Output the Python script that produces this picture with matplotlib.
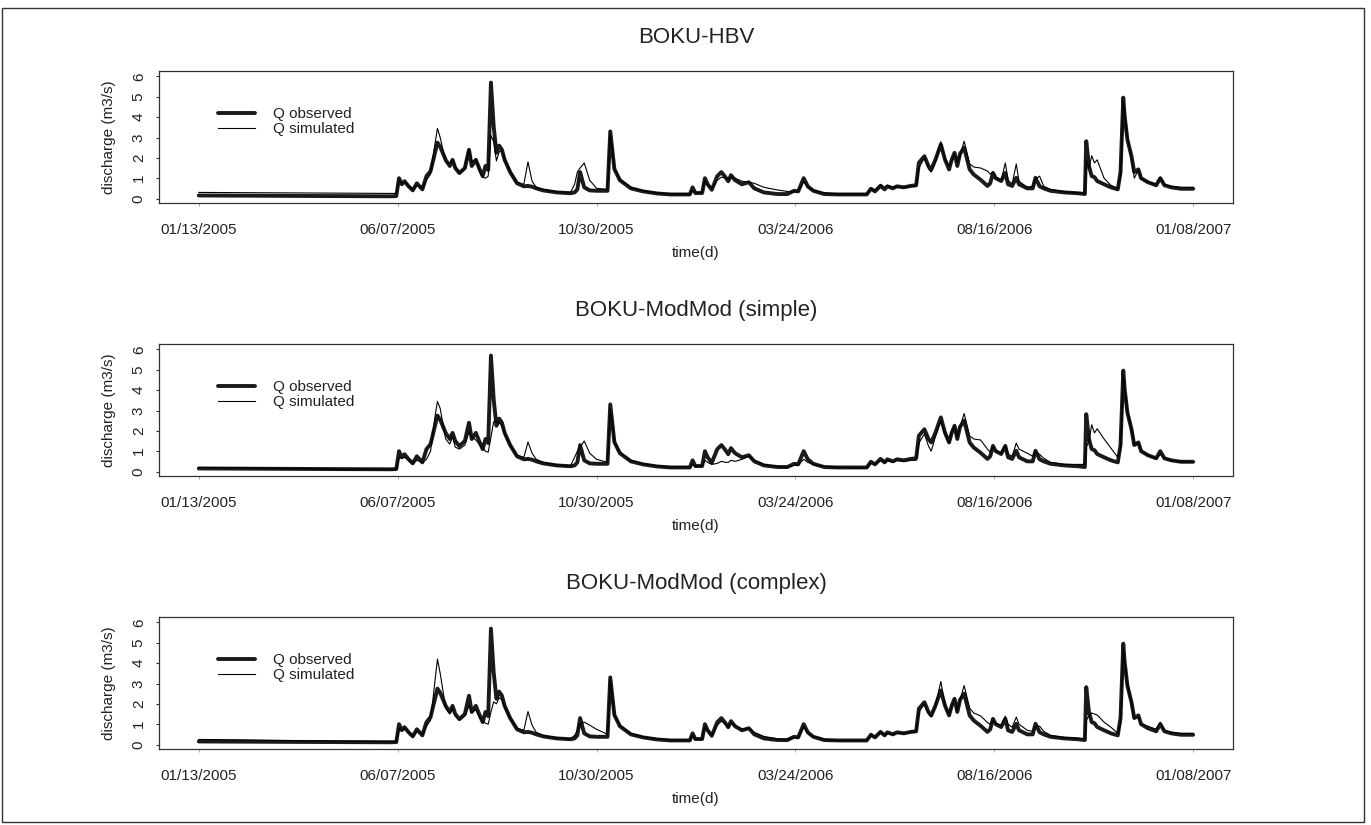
import matplotlib
matplotlib.use("Agg")
import matplotlib.pyplot as plt
from matplotlib.patches import Rectangle

plt.rcParams['font.family'] = ['Liberation Sans', 'DejaVu Sans']

# ---- data (days since 01/13/2005) ----
days = [0, 30, 60, 100, 140, 144, 146, 148, 150, 153,
        156, 159, 163, 166, 169, 172, 174, 176, 180, 183,
        185, 187, 190, 194, 197, 199, 202, 205, 207, 209,
        211, 213, 215, 217, 219, 221, 223, 227, 232, 237,
        240, 243, 246, 251, 261, 271, 274, 276, 278, 281,
        285, 290, 298, 300, 303, 307, 315, 324, 334, 344,
        358, 360, 362, 367, 369, 371, 374, 378, 381, 384,
        386, 388, 391, 396, 401, 405, 412, 422, 429, 434,
        437, 441, 444, 448, 456, 466, 480, 487, 490, 493,
        497, 500, 502, 506, 509, 514, 519, 523, 525, 529,
        532, 534, 537, 541, 544, 547, 549, 551, 553, 555,
        558, 562, 565, 570, 575, 577, 579, 581, 585, 588,
        590, 593, 596, 598, 604, 608, 610, 613, 616, 621,
        631, 641, 646, 647, 649, 651, 653, 655, 660, 665,
        670, 672, 674, 675, 677, 680, 682, 685, 687, 692,
        698, 701, 704, 709, 716, 725]

q_obs = [.15, .14, .13, .12, .11, .12, 1.00, .70, .85, .60,
         .40, .75, .45, 1.10, 1.35, 2.20, 2.75, 2.55, 1.90, 1.60,
         1.90, 1.50, 1.25, 1.50, 2.40, 1.60, 1.90, 1.40, 1.10, 1.60,
         1.40, 5.70, 3.55, 2.25, 2.60, 2.40, 1.90, 1.30, .75, .60,
         .62, .58, .50, .40, .30, .26, .30, .45, 1.30, .55,
         .40, .38, .38, 3.30, 1.45, .90, .50, .35, .25, .20,
         .20, .55, .27, .27, 1.00, .70, .43, 1.10, 1.30, 1.05,
         .85, 1.15, .90, .70, .80, .50, .30, .22, .22, .38,
         .35, 1.00, .60, .38, .22, .20, .20, .20, .48, .35,
         .62, .45, .60, .50, .60, .55, .62, .65, 1.76, 2.08,
         1.60, 1.43, 1.90, 2.66, 1.92, 1.43, 1.92, 2.25, 1.60, 2.20,
         2.50, 1.43, 1.18, .92, .62, .75, 1.26, 1.00, .86, 1.26,
         .70, .62, 1.02, .70, .50, .50, 1.02, .60, .50, .38,
         .30, .26, .22, 2.82, 1.59, 1.10, 1.05, .86, .70, .55,
         .45, 1.30, 4.96, 4.06, 2.90, 2.08, 1.30, 1.43, 1.00, .80,
         .65, 1.00, .65, .55, .48, .48]

q_sim_hbv = [.30, .29, .28, .27, .25, .25, .90, .75, .80, .60,
             .45, .65, .50, .90, 1.20, 2.60, 3.45, 3.00, 1.80, 1.70,
             1.95, 1.55, 1.25, 1.45, 2.45, 1.80, 1.95, 1.30, 1.05, 1.00,
             1.10, 3.10, 2.80, 1.85, 2.30, 2.35, 1.95, 1.35, .80, .70,
             1.80, .85, .55, .45, .33, .30, .70, 1.30, 1.50, 1.75,
             .90, .50, .45, 3.20, 1.45, .95, .55, .38, .28, .22,
             .22, .40, .30, .30, .90, .65, .50, .90, 1.05, 1.00,
             .95, 1.05, 1.00, .85, .80, .75, .55, .42, .35, .32,
             .35, .85, .55, .40, .28, .22, .22, .22, .50, .40,
             .70, .55, .65, .55, .58, .55, .60, .60, 1.50, 2.00,
             1.45, 1.30, 1.80, 2.80, 1.90, 1.60, 1.85, 2.20, 1.75, 2.10,
             2.82, 1.70, 1.55, 1.50, 1.35, 1.20, 1.30, 1.05, .90, 1.75,
             .90, .72, 1.70, .85, .55, .60, .95, 1.10, .60, .45,
             .33, .28, .25, 1.90, 1.50, 2.10, 1.75, 1.90, 1.00, .65,
             .50, 1.10, 4.80, 4.20, 3.00, 2.00, 1.00, 1.40, 1.00, .80,
             .70, 1.05, .70, .60, .55, .55]

q_sim_simple = [.20, .18, .15, .12, .10, .10, .70, .65, .70, .55,
                .40, .55, .45, .60, 1.00, 2.60, 3.45, 3.10, 1.60, 1.35,
                1.70, 1.20, 1.10, 1.30, 1.95, 1.70, 1.55, 1.30, 1.20, 1.00,
                .95, 1.70, 2.45, 2.45, 2.40, 2.25, 1.90, 1.30, .80, .70,
                1.45, .90, .60, .45, .32, .28, .70, 1.00, 1.20, 1.50,
                .90, .60, .45, 3.10, 1.45, .95, .55, .38, .28, .22,
                .22, .35, .28, .28, .55, .45, .35, .40, .50, .45,
                .45, .55, .50, .60, .75, .55, .35, .25, .22, .30,
                .32, .60, .45, .35, .25, .20, .18, .18, .40, .35,
                .55, .45, .55, .45, .55, .50, .55, .55, 1.40, 1.85,
                1.25, 1.00, 1.70, 2.50, 1.85, 1.40, 1.95, 2.20, 1.70, 2.20,
                2.85, 1.75, 1.60, 1.55, 1.10, .95, 1.20, 1.05, .90, 1.30,
                .85, .75, 1.40, 1.10, .90, .75, .95, .85, .65, .45,
                .35, .35, .35, 1.20, 1.50, 2.30, 1.90, 2.10, 1.60, 1.15,
                .70, 1.10, 4.75, 4.10, 3.00, 2.10, 1.35, 1.40, 1.05, .80,
                .65, .85, .65, .55, .48, .45]

q_sim_complex = [.25, .23, .20, .17, .15, .15, .80, .70, .80, .60,
                 .40, .65, .50, .90, 1.20, 3.00, 4.20, 3.50, 1.80, 1.50,
                 1.80, 1.40, 1.20, 1.40, 1.90, 1.60, 1.70, 1.30, 1.15, 1.05,
                 1.00, 1.60, 2.10, 2.00, 2.30, 2.20, 1.85, 1.30, .80, .70,
                 1.62, .95, .60, .45, .32, .28, .45, .70, 1.00, 1.10,
                 .95, .75, .50, 3.20, 1.45, .95, .55, .38, .28, .22,
                 .22, .45, .28, .28, .90, .65, .45, .95, 1.15, 1.00,
                 .85, 1.10, .90, .75, .80, .60, .40, .28, .25, .35,
                 .35, .90, .55, .40, .25, .20, .20, .20, .45, .35,
                 .60, .45, .55, .50, .55, .55, .60, .60, 1.60, 2.00,
                 1.50, 1.35, 1.90, 3.10, 1.90, 1.50, 1.90, 2.25, 1.70, 2.20,
                 2.90, 1.79, 1.55, 1.41, 1.08, 1.00, 1.20, 1.05, .95, 1.40,
                 1.00, .85, 1.35, 1.00, .70, .65, .90, .90, .65, .45,
                 .35, .30, .28, 1.20, 1.40, 1.55, 1.50, 1.45, 1.10, .85,
                 .55, 1.00, 4.70, 4.10, 3.00, 2.00, 1.30, 1.35, 1.00, .90,
                 .75, 1.10, .70, .60, .55, .55]

titles = ["BOKU-HBV", "BOKU-ModMod (simple)", "BOKU-ModMod (complex)"]
sims = [q_sim_hbv, q_sim_simple, q_sim_complex]
tick_days = [0, 145, 290, 435, 580, 725]
tick_labels = ["01/13/2005", "06/07/2005", "10/30/2005", "03/24/2006",
               "08/16/2006", "01/08/2007"]
y_ticks = [0, 1, 2, 3, 4, 5, 6]

# ---- figure ----
W, H = 1371, 825
fig = plt.figure(figsize=(W / 100, H / 100), dpi=100)
fig.patches.append(Rectangle((2 / W, 3 / H), 1362 / W, 814 / H, transform=fig.transFigure,
                             fill=False, edgecolor='#333333', lw=1.0))

ax_left, ax_w, ax_h = 159 / W, 1074 / W, 132 / H
ax_tops = [71, 344, 617]

for top, title, sim in zip(ax_tops, titles, sims):
    ax = fig.add_axes([ax_left, 1 - (top + 132) / H, ax_w, ax_h])
    ax.plot(days, q_obs, color='#1a1a1a', lw=2.8, solid_joinstyle='round',
            solid_capstyle='round', label='Q observed')
    ax.plot(days, sim, color='black', lw=0.8, label='Q simulated')
    ax.set_xlim(-29, 754)
    ax.set_ylim(-0.22, 6.27)
    ax.set_xticks(tick_days)
    ax.set_xticklabels(tick_labels)
    ax.set_yticks(y_ticks)
    ax.set_yticklabels([str(v) for v in y_ticks], rotation=90, va='center')
    ax.tick_params(axis='x', length=2, width=0.6, color='#999999', labelsize=11,
                   pad=12.5, labelcolor='#222222')
    ax.tick_params(axis='y', length=2.5, width=0.8, color='#333333', labelsize=11,
                   pad=7, labelcolor='#222222')
    for s in ax.spines.values():
        s.set_color('#333333')
        s.set_linewidth(0.9)
    ax.set_ylabel('discharge (m3/s)', fontsize=11, color='#222222')
    ax.yaxis.set_label_coords(-43 / 1074, 0.5)
    ax.set_xlabel('time(d)', fontsize=11, color='#222222')
    ax.xaxis.set_label_coords(0.5, -50 / 132)
    ax.xaxis.label.set_va('center')
    ax.set_title(title, fontsize=16, color='#222222', pad=20)
    ax.legend(loc='upper left', bbox_to_anchor=(59 / 1074, 0.726), frameon=False,
              fontsize=11, handlelength=2.42, handletextpad=1.15, labelspacing=0.08,
              borderpad=0, borderaxespad=0, labelcolor='#222222')

fig.savefig('out.png', dpi=100)
